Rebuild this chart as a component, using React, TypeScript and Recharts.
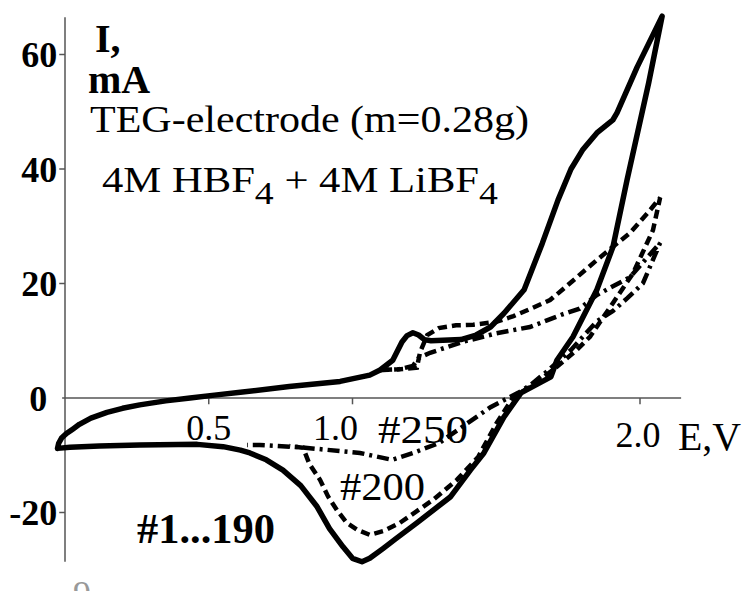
import { LineChart, Line, XAxis, YAxis, ReferenceLine } from 'recharts';

// cyclic voltammograms, [E (V), I (mA)]
const cycles1to190: [number, number][] = [
  [-0.026, -8.8], [-0.022, -7.9], [-0.012, -7.0], [0.005, -6.2], [0.028, -5.4],
  [0.05, -4.6], [0.09, -3.5], [0.146, -2.5], [0.2, -1.8], [0.26, -1.2],
  [0.35, -0.5], [0.435, 0.0], [0.52, 0.5], [0.61, 1.0], [0.78, 2.0],
  [0.957, 2.9], [1.06, 4.0], [1.096, 4.9], [1.14, 6.6], [1.172, 9.8],
  [1.19, 10.9], [1.21, 11.4], [1.23, 11.0], [1.25, 10.2], [1.273, 10.0],
  [1.377, 10.2], [1.43, 11.0], [1.48, 12.4], [1.527, 14.8], [1.597, 18.9],
  [1.66, 27.0], [1.715, 34.6], [1.76, 40.0], [1.8, 43.3], [1.85, 46.3],
  [1.906, 48.6], [1.92, 49.8], [1.99, 57.8], [2.077, 66.7], [2.03, 55.0],
  [1.955, 38.1], [1.906, 26.4], [1.85, 18.9], [1.767, 10.7], [1.711, 6.6],
  [1.69, 3.7], [1.586, 0.9], [1.527, -3.3], [1.457, -9.6], [1.41, -12.6],
  [1.34, -17.3], [1.224, -21.8], [1.15, -24.6], [1.106, -26.3], [1.06, -28.0],
  [1.033, -28.6], [1.0, -28.0], [0.967, -26.0], [0.92, -22.8], [0.877, -19.0],
  [0.82, -15.3], [0.758, -12.6], [0.7, -10.8], [0.643, -9.6], [0.61, -9.1],
  [0.55, -8.5], [0.46, -8.1], [0.26, -8.2], [0.12, -8.4], [0.017, -8.6],
  [-0.026, -8.8],
];

const cycle200: [number, number][] = [
  [1.096, 4.9], [1.16, 5.0], [1.224, 5.3], [1.235, 8.0], [1.26, 11.0],
  [1.3, 12.2], [1.36, 12.7], [1.42, 12.8], [1.5, 13.3], [1.56, 14.3],
  [1.62, 15.6], [1.687, 17.1], [1.73, 18.9], [1.85, 24.1], [1.91, 26.6],
  [1.965, 28.8], [2.03, 32.5], [2.07, 35.0], [2.045, 29.3], [1.976, 21.8],
  [1.906, 16.6], [1.826, 10.7], [1.78, 8.4], [1.7, 5.0], [1.62, 2.0],
  [1.56, 0.2], [1.5, -4.5], [1.437, -10.3], [1.363, -14.3], [1.28, -17.8],
  [1.165, -21.8], [1.11, -23.2], [1.06, -23.9], [1.016, -23.0], [0.98, -21.8],
  [0.946, -19.6], [0.915, -17.2], [0.887, -14.3], [0.85, -11.5], [0.828, -8.7],
  [0.78, -8.4],
];

const cycle250: [number, number][] = [
  [1.096, 4.9], [1.16, 5.0], [1.21, 5.6], [1.23, 7.0], [1.27, 7.9],
  [1.384, 9.8], [1.5, 11.3], [1.617, 12.4], [1.73, 14.6], [1.79, 15.6],
  [1.85, 18.0], [1.965, 21.1], [2.07, 27.1], [2.01, 20.0], [1.955, 17.4],
  [1.906, 15.2], [1.85, 13.4], [1.76, 8.4], [1.68, 4.8], [1.62, 2.3],
  [1.576, 0.9], [1.48, -1.6], [1.4, -4.4], [1.3, -7.9], [1.21, -9.6],
  [1.137, -10.8], [1.026, -9.6], [0.817, -8.6], [0.678, -8.2], [0.633, -8.2],
];

const yTicks = [60, 40, 20, 0, -20];
const xTicks = [0.5, 1.0, 2.0];

const toPoints = (pairs: [number, number][]) => pairs.map(([e, i]) => ({ e, i }));

const serif = "'Liberation Serif', 'Times New Roman', serif";

export default function App() {
  return (
    <div style={{ position: 'absolute', left: 0, top: 0, width: 742, height: 591, background: '#fff', overflow: 'hidden' }}>
      <LineChart
        width={742}
        height={591}
        margin={{ top: 8.7, right: 44.5, bottom: 21.25, left: 50.625 }}
      >
        <XAxis dataKey="e" type="number" domain={[-0.05, 2.2]} allowDataOverflow hide />
        <YAxis type="number" domain={[-30, 68]} allowDataOverflow hide />

        {/* axes drawn through the origin */}
        <ReferenceLine segment={[{ x: -0.01, y: 0 }, { x: 2.143, y: 0 }]} stroke="#555" strokeWidth={1.5} />
        <ReferenceLine segment={[{ x: 0, y: -28.6 }, { x: 0, y: 66.5 }]} stroke="#555" strokeWidth={1.5} />

        {yTicks.map((v) => (
          <ReferenceLine
            key={`y${v}`}
            segment={[{ x: -0.02, y: v }, { x: 0, y: v }]}
            stroke={v === 0 ? 'none' : '#555'}
            strokeWidth={1.5}
            label={{
              value: String(v),
              position: 'left',
              offset: v === 0 ? 12 : 2,
              fontSize: 36,
              fontWeight: 'bold',
              fill: '#000',
              fontFamily: serif,
            }}
          />
        ))}

        {xTicks.map((v) => (
          <ReferenceLine
            key={`x${v}`}
            segment={[{ x: v, y: 0 }, { x: v, y: -1.1 }]}
            stroke="#555"
            strokeWidth={1.5}
            label={{
              value: v.toFixed(1),
              position: 'bottom',
              offset: v === 2 ? 17 : 10,
              dx: v === 1 ? -17 : v === 2 ? -2 : 0,
              fontSize: 36,
              fill: '#000',
              fontFamily: serif,
            }}
          />
        ))}

        <Line
          data={toPoints(cycles1to190)}
          dataKey="i"
          type="linear"
          stroke="#000"
          strokeWidth={5.5}
          strokeLinejoin="round"
          strokeLinecap="round"
          dot={false}
          activeDot={false}
          isAnimationActive={false}
        />
        <Line
          data={toPoints(cycle200)}
          dataKey="i"
          type="linear"
          stroke="#000"
          strokeWidth={4.5}
          strokeDasharray="9 5"
          dot={false}
          activeDot={false}
          isAnimationActive={false}
        />
        <Line
          data={toPoints(cycle250)}
          dataKey="i"
          type="linear"
          stroke="#000"
          strokeWidth={4.5}
          strokeDasharray="12 5 3 5"
          dot={false}
          activeDot={false}
          isAnimationActive={false}
        />
      </LineChart>

      <svg
        width={742}
        height={591}
        style={{ position: 'absolute', left: 0, top: 0, pointerEvents: 'none', fontFamily: serif }}
        fill="#000"
      >
        <text x={95} y={52} fontSize={40} fontWeight="bold">I,</text>
        <text x={88} y={93} fontSize={40} fontWeight="bold">mA</text>
        <text x={90} y={132} fontSize={37} textLength={439} lengthAdjust="spacingAndGlyphs">
          TEG-electrode (m=0.28g)
        </text>
        <text x={102} y={192} fontSize={35} textLength={396} lengthAdjust="spacingAndGlyphs">
          4M HBF<tspan dy={12} fontSize={31}>4</tspan>
          <tspan dy={-12}> + 4M LiBF</tspan>
          <tspan dy={12} fontSize={31}>4</tspan>
        </text>
        <text x={137} y={543} fontSize={42} fontWeight="bold" textLength={138} lengthAdjust="spacingAndGlyphs">
          #1...190
        </text>
        <text x={340} y={500} fontSize={40} textLength={85} lengthAdjust="spacingAndGlyphs">#200</text>
        <text x={378} y={443} fontSize={40} textLength={90} lengthAdjust="spacingAndGlyphs">#250</text>
        <text x={678} y={450} fontSize={40} textLength={63} lengthAdjust="spacingAndGlyphs">E,V</text>
        <text x={73} y={606} fontSize={36} fill="#999">9</text>
      </svg>
    </div>
  );
}
